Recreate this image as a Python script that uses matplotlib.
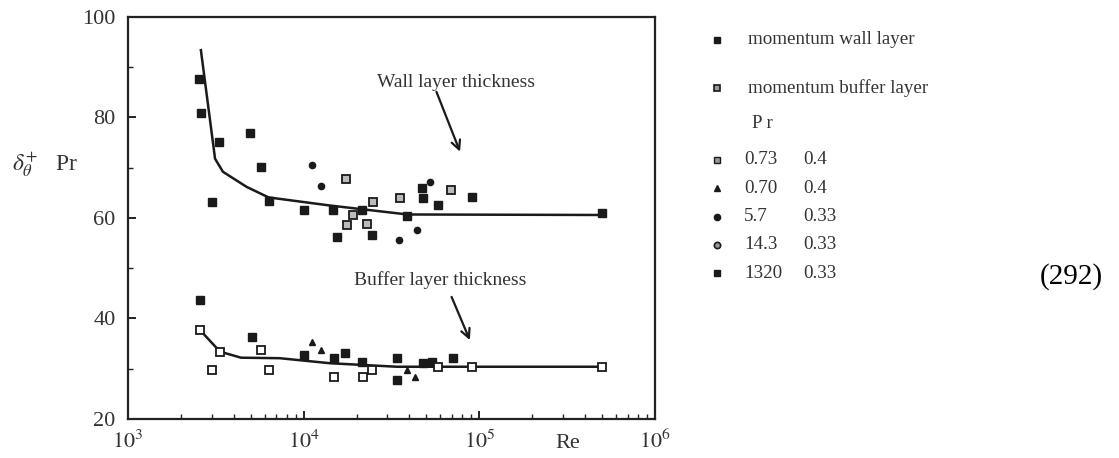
import matplotlib
matplotlib.use("Agg")
import matplotlib.pyplot as plt
from matplotlib.ticker import FixedLocator, NullFormatter

plt.rcParams['font.family'] = ['Liberation Serif', 'DejaVu Serif']
plt.rcParams['mathtext.fontset'] = 'stix'

# ---- correlation curves ----
wall_fit_re = [2600, 3130, 3470, 4730, 6310, 14000, 39000, 500000]
wall_fit_y = [93.4, 71.8, 69.2, 66.2, 64.1, 62.5, 60.7, 60.6]
buffer_fit_re = [2570, 3340, 4400, 7300, 14100, 33900, 500000]
buffer_fit_y = [37.7, 33.4, 32.2, 32.1, 31.1, 30.4, 30.4]

# ---- wall layer data ----
wall_sq_re = [2520, 2600, 3310, 4940, 5750, 2990, 6310, 10000, 14700, 15500,
              21400, 24500, 38500, 46900, 48000, 58300, 90400, 500000]
wall_sq_y = [87.7, 80.8, 75.2, 76.9, 70.2, 63.2, 63.4, 61.6, 61.6, 56.3,
             61.6, 56.6, 60.3, 65.9, 63.9, 62.6, 64.1, 60.9]
wall_dot_re = [11100, 12600, 34700, 44000, 52700]
wall_dot_y = [70.5, 66.4, 55.6, 57.6, 67.2]
wall_open_re = [17400, 19200, 24900, 22900, 17600, 35300, 69200]
wall_open_y = [67.7, 60.6, 63.2, 58.9, 58.6, 63.9, 65.6]

# ---- buffer layer data ----
buf_sq_re = [2570, 5060, 10000, 14800, 17200, 21400, 33900, 33900, 47900, 53700, 70800]
buf_sq_y = [43.7, 36.4, 32.7, 32.1, 33.1, 31.4, 32.1, 27.8, 31.1, 31.4, 32.1]
buf_open_re = [2570, 3340, 2990, 5750, 6310, 14800, 21900, 24400, 58300, 90400, 500000]
buf_open_y = [37.7, 33.4, 29.8, 33.7, 29.8, 28.4, 28.4, 29.8, 30.4, 30.4, 30.4]
buf_tri_re = [11100, 12600, 38500, 43000]
buf_tri_y = [35.4, 33.7, 29.8, 28.4]

x_ticks = [1e3, 1e4, 1e5, 1e6]
x_tick_labels = [r'$10^{3}$', r'$10^{4}$', r'$10^{5}$', r'$10^{6}$']
y_ticks = [20, 40, 60, 80, 100]

legend_rows = [('0.73', '0.4'), ('0.70', '0.4'), ('5.7', '0.33'),
               ('14.3', '0.33'), ('1320', '0.33')]

ink = '#1a1a1a'
txt = '#333333'
fig = plt.figure(figsize=(11.19, 4.58), dpi=100)
ax = fig.add_axes([128 / 1119, 1 - 419 / 458, (655 - 128) / 1119, (419 - 17) / 458])
ax.set_xscale('log')
ax.set_xlim(1e3, 1e6)
ax.set_ylim(20, 100)

ax.plot(wall_fit_re, wall_fit_y, color=ink, lw=1.8)
ax.plot(buffer_fit_re, buffer_fit_y, color=ink, lw=1.8)

ms = 5.5
ax.plot(wall_sq_re, wall_sq_y, 's', ms=ms, color=ink, ls='none')
ax.plot(wall_dot_re, wall_dot_y, 'o', ms=4.5, color=ink, ls='none')
ax.plot(wall_open_re, wall_open_y, 's', ms=ms, mfc='#bbbbbb', mec=ink, mew=1.3, ls='none')
ax.plot(buf_sq_re, buf_sq_y, 's', ms=ms, color=ink, ls='none')
ax.plot(buf_open_re, buf_open_y, 's', ms=ms, mfc='white', mec=ink, mew=1.3, ls='none')
ax.plot(buf_tri_re, buf_tri_y, '^', ms=5, color=ink, ls='none')

# axes styling
for s in ax.spines.values():
    s.set_linewidth(1.6)
    s.set_color('#222222')
ax.xaxis.set_major_locator(FixedLocator(x_ticks))
ax.set_xticklabels(x_tick_labels)
minor = [m * 10 ** e for e in range(3, 6) for m in range(2, 10)]
ax.xaxis.set_minor_locator(FixedLocator(minor))
ax.xaxis.set_minor_formatter(NullFormatter())
ax.yaxis.set_major_locator(FixedLocator(y_ticks))
ax.yaxis.set_minor_locator(FixedLocator([30, 50, 70, 90]))
ax.tick_params(which='major', direction='in', length=6, width=1.4, colors='#222222',
               labelsize=16, labelcolor=txt)
ax.tick_params(which='minor', direction='in', length=3.5, width=1.0, colors='#222222')
ax.tick_params(axis='x', which='major', pad=8)
ax.tick_params(axis='y', which='major', pad=9)

# curve annotations
ax.text(10 ** 4.867, 86.9, 'Wall layer thickness', ha='center', va='center',
        fontsize=14, color=txt)
ax.annotate('', xy=(10 ** 4.89, 73.2), xytext=(10 ** 4.756, 85.1),
            arrowprops=dict(arrowstyle='->', lw=1.6, color=ink,
                            shrinkA=0, shrinkB=0, mutation_scale=16))
ax.text(10 ** 4.776, 47.7, 'Buffer layer thickness', ha='center', va='center',
        fontsize=14, color=txt)
ax.annotate('', xy=(10 ** 4.946, 35.7), xytext=(10 ** 4.842, 44.3),
            arrowprops=dict(arrowstyle='->', lw=1.6, color=ink,
                            shrinkA=0, shrinkB=0, mutation_scale=16))

fig.text(12 / 1119, 1 - 165 / 458, r'$\delta_{\theta}^{+}$   Pr', fontsize=17,
         color=txt, va='center', ha='left')
fig.text(568 / 1119, 1 - 444 / 458, 'Re', fontsize=16, color=txt,
         va='center', ha='center')

# legend panel in pixel coordinates
lg = fig.add_axes([0, 0, 1, 1])
lg.set_xlim(0, 1119)
lg.set_ylim(458, 0)
lg.axis('off')
lg.plot(717, 40, 's', ms=5, color=ink)
lg.text(748, 40, 'momentum wall layer', fontsize=13.7, va='center', color=txt)
lg.plot(717, 88, 's', ms=5, mfc='#999999', mec=ink, mew=1.2)
lg.text(748, 88, 'momentum buffer layer', fontsize=13.7, va='center', color=txt)
lg.text(752, 123, 'P r', fontsize=13.7, va='center', color=txt)
legend_marks = [dict(marker='s', mfc='#999999', mec=ink, ms=5),
                dict(marker='^', color=ink, ms=5),
                dict(marker='o', color=ink, ms=4.5),
                dict(marker='o', mfc='#999999', mec=ink, ms=4.5, mew=1.2),
                dict(marker='s', color=ink, ms=5)]
for i, ((a, b), mk) in enumerate(zip(legend_rows, legend_marks)):
    yy = 160 + i * 28.3
    lg.plot(717, yy, ls='none', **mk)
    lg.text(744, yy, a, fontsize=13.7, va='center', color=txt)
    lg.text(803, yy, b, fontsize=13.7, va='center', color=txt)

fig.text(1071 / 1119, 1 - 277 / 458, '(292)', fontsize=21, color='black',
         ha='center', va='center')

fig.savefig('out.png', dpi=100)
